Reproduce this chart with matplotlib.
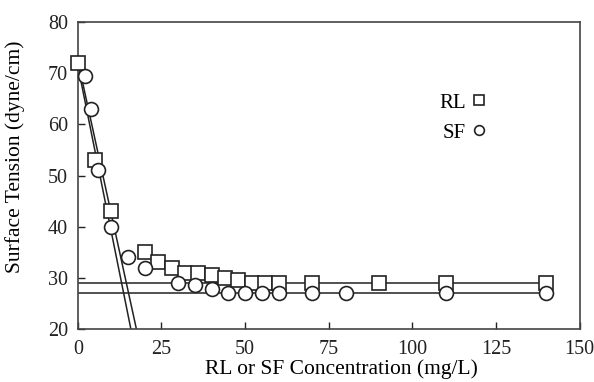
import numpy as np
import matplotlib.pyplot as plt

# surface tension vs concentration
rl_conc = [0, 5, 10, 20, 24, 28, 32, 36, 40, 44, 48, 52, 56, 60, 70, 90, 110, 140]
rl_st = [72, 53, 43, 35, 33, 32, 31, 31, 30.5, 30, 29.6, 29, 29, 29, 29, 29, 29, 29]

sf_conc = [2, 4, 6, 10, 15, 20, 30, 35, 40, 45, 50, 55, 60, 70, 80, 110, 140]
sf_st = [69.5, 63, 51, 40, 34, 32, 29, 28.5, 27.8, 27, 27, 27, 27, 27, 27, 27, 27]

# fitted lines: steep decrease and plateau
rl_fit = (72.5, -3.0)   # intercept, slope
sf_fit = (71.5, -3.25)
rl_plateau = 29
sf_plateau = 27

plt.rcParams['font.family'] = ['Liberation Serif', 'DejaVu Serif']
plt.rcParams['font.size'] = 14

fig = plt.figure(figsize=(5.94, 3.82), dpi=100)
ax = fig.add_axes([0.131, 0.139, 0.845, 0.803])

c = '#222222'
x = np.array([0, 20])
ax.plot(x, rl_fit[0] + rl_fit[1] * x, color=c, lw=1.1)
ax.plot(x, sf_fit[0] + sf_fit[1] * x, color=c, lw=1.1)
ax.plot([0, 140], [rl_plateau, rl_plateau], color=c, lw=1.1)
ax.plot([0, 140], [sf_plateau, sf_plateau], color=c, lw=1.1)

ax.plot(rl_conc, rl_st, 's', ms=10, mfc='white', mec=c, mew=1.2, ls='none',
        label='RL', clip_on=False, zorder=3)
ax.plot(sf_conc, sf_st, 'o', ms=10, mfc='white', mec=c, mew=1.2, ls='none',
        label='SF', clip_on=False, zorder=3)

ax.set_xlim(0, 150)
ax.set_ylim(20, 80)
ax.set_xticks([0, 25, 50, 75, 100, 125, 150])
ax.set_yticks([20, 30, 40, 50, 60, 70, 80])
ax.tick_params(direction='in', length=5, width=1, colors=c, labelcolor='#222222',
               labelsize=14.5)
ax.tick_params(axis='x', pad=8)
ax.tick_params(axis='y', pad=7)
for s in ax.spines.values():
    s.set_linewidth(1.2)
    s.set_color('#444444')

ax.set_xlabel('RL or SF Concentration (mg/L)', fontsize=15.5)
ax.set_ylabel('Surface Tension (dyne/cm)', fontsize=15.5)
ax.xaxis.set_label_coords(0.526, -0.10)
ax.yaxis.set_label_coords(-0.106, 0.56)

ax.legend(loc=(0.704, 0.58), frameon=False, markerfirst=False, markerscale=0.7,
          handletextpad=0.3, labelspacing=0.5, handlelength=0.6, fontsize=15)

fig.savefig('out.png', dpi=100)
